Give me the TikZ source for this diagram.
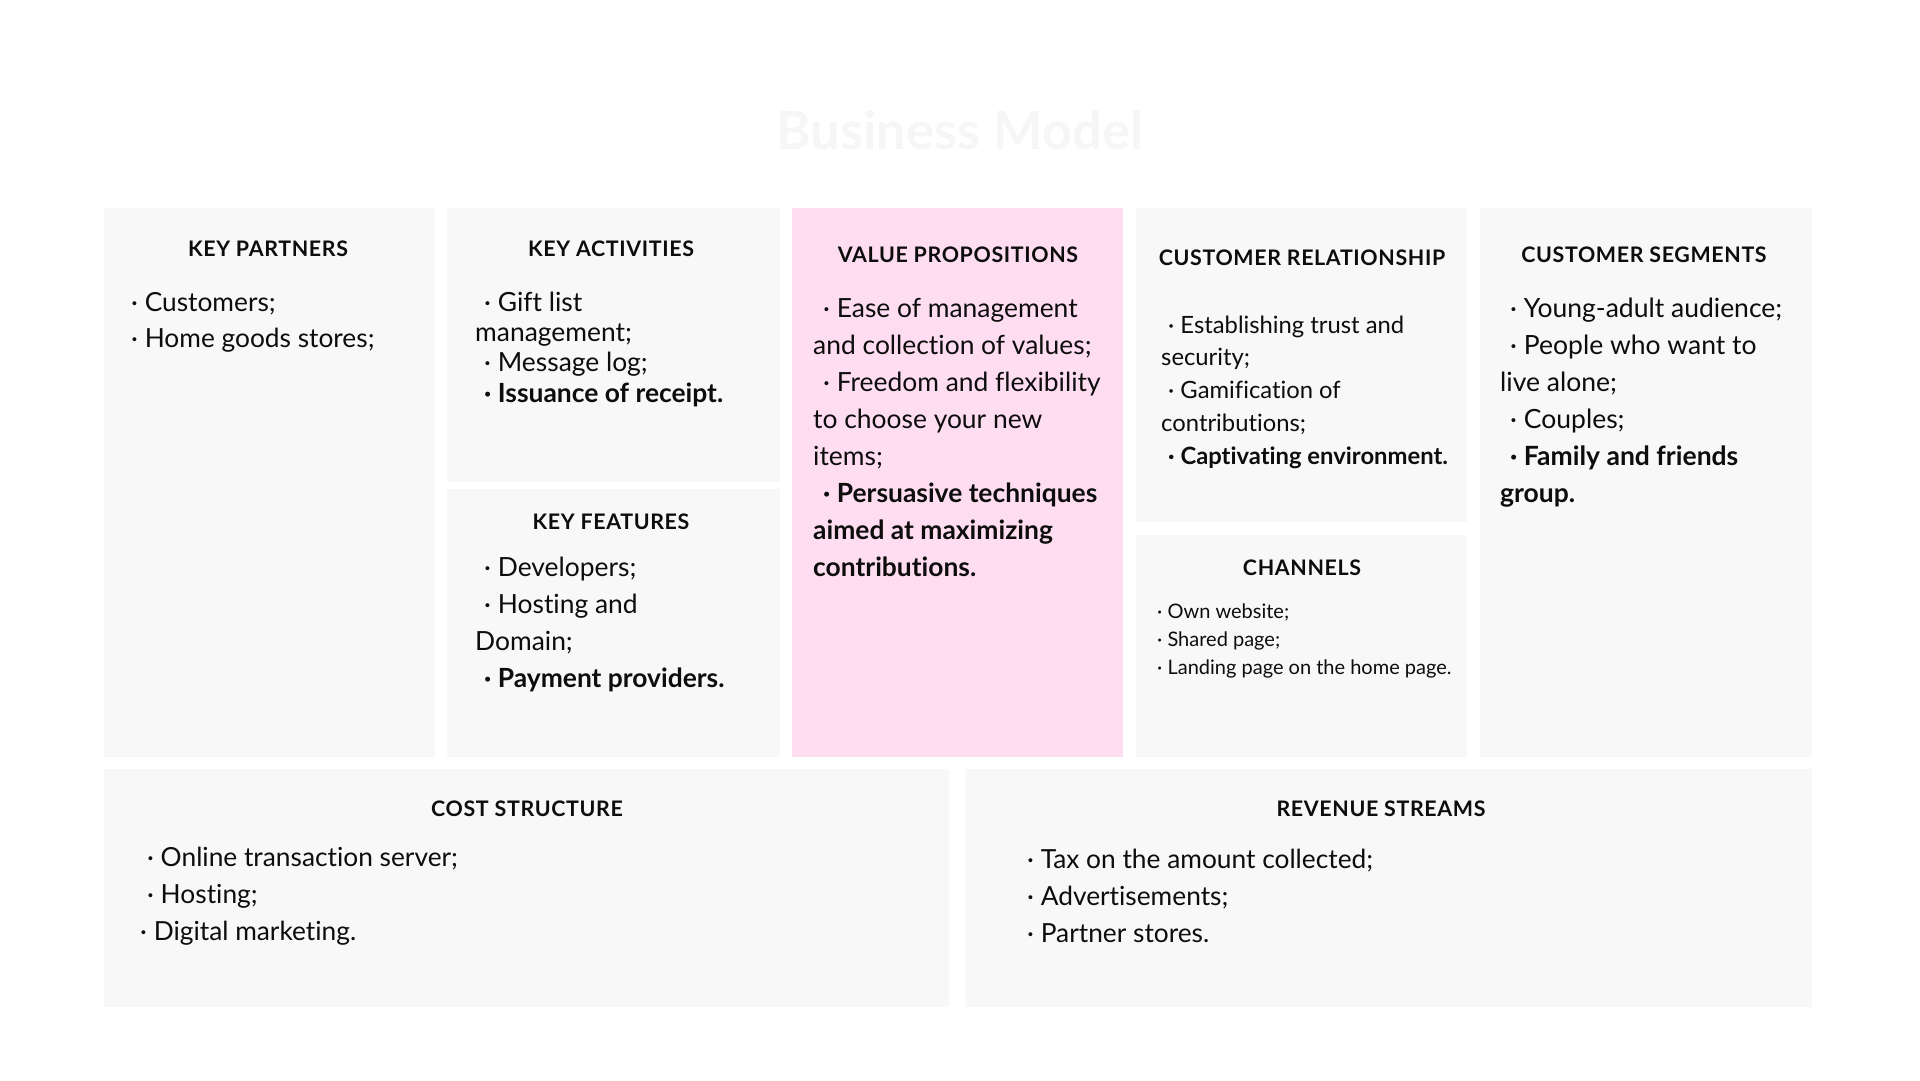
\documentclass[tikz,border=0pt]{standalone}
\usepackage{fontspec}
\setmainfont{Lato}[Ligatures=NoCommon]
\newfontfamily\headfont{Lato}[LetterSpace=3.0,Ligatures=NoCommon]
\definecolor{boxgray}{HTML}{F8F8F8}
\definecolor{boxpink}{HTML}{FFDDF0}
\definecolor{ink}{HTML}{0D0D0D}
\definecolor{titlegray}{HTML}{F6F6F6}
\newcommand{\ind}[1]{\hspace*{#1pt}}
\begin{document}
\begin{tikzpicture}[x=1pt,y=-1pt,
  panel/.style={fill=boxgray, draw=none},
  pinkpanel/.style={fill=boxpink, draw=none},
  head/.style={font=\headfont\bfseries\fontsize{21.4}{25}\selectfont, anchor=base, inner sep=0pt, text=ink},
  body/.style={anchor=north west, inner sep=0pt, align=left, text=ink},
]
\useasboundingbox[fill=white] (0,0) rectangle (1920,1080);

% title
\node[font=\bfseries\fontsize{52.5}{60}\selectfont, text=titlegray, anchor=base, inner sep=0pt] (title) at (960,149) {Business Model};

% panels
\path[panel] (104,208) rectangle (435,757);
\path[panel] (447,208) rectangle (780,482);
\path[panel] (447,489) rectangle (780,757);
\path[pinkpanel] (792,208) rectangle (1123,757);
\path[panel] (1136,208) rectangle (1467,522);
\path[panel] (1136,535) rectangle (1467,757);
\path[panel] (1480,208) rectangle (1812,757);
\path[panel] (104,769) rectangle (949,1007);
\path[panel] (965,769) rectangle (1812,1007);

% headings
\node[head] (hkp) at (268,256.5) {KEY PARTNERS};
\node[head] (hka) at (611,256.5) {KEY ACTIVITIES};
\node[head] (hkf) at (611,529.5) {KEY FEATURES};
\node[head] (hvp) at (958,262.5) {VALUE PROPOSITIONS};
\node[head] (hcr) at (1302,265.5) {CUSTOMER RELATIONSHIP};
\node[head] (hch) at (1302,575.5) {CHANNELS};
\node[head] (hcs) at (1644,262.5) {CUSTOMER SEGMENTS};
\node[head] (hcost) at (527,816.5) {COST STRUCTURE};
\node[head] (hrev) at (1381,816.5) {REVENUE STREAMS};

% bodies
\node[body, font=\fontsize{26.3}{36}\selectfont] (bkp) at (131,285.8)
  {\strut· Customers;\\· Home goods stores;};

\node[body, font=\fontsize{26.4}{30.4}\selectfont] (bka) at (475,289.7)
  {\strut\ind{9}· Gift list\\management;\\\ind{9}· Message log;\\\ind{9}\textbf{· Issuance of receipt.}};

\node[body, font=\fontsize{26.4}{37}\selectfont] (bkf) at (475,550.1)
  {\strut\ind{9}· Developers;\\\ind{9}· Hosting and\\Domain;\\\ind{9}\textbf{· Payment providers.}};

\node[body, font=\fontsize{26.4}{37}\selectfont] (bvp) at (813,291.1)
  {\strut\ind{10}· Ease of management\\and collection of values;\\\ind{10}· Freedom and flexibility\\to choose your new\\items;\\\ind{10}\textbf{· Persuasive techniques}\\\textbf{aimed at maximizing}\\\textbf{contributions.}};

\node[body, font=\fontsize{23.8}{32.8}\selectfont] (bcr) at (1161,310.0)
  {\strut\ind{7}· Establishing trust and\\security;\\\ind{7}· Gamification of\\contributions;\\\ind{7}\textbf{· Captivating environment.}};

\node[body, font=\fontsize{20}{28}\selectfont] (bch) at (1157,598.4)
  {\strut· Own website;\\· Shared page;\\· Landing page on the home page.};

\node[body, font=\fontsize{26.5}{37}\selectfont] (bcs) at (1500,291.1)
  {\strut\ind{10}· Young-adult audience;\\\ind{10}· People who want to\\live alone;\\\ind{10}· Couples;\\\ind{10}\textbf{· Family and friends}\\\textbf{group.}};

\node[body, font=\fontsize{26.3}{37.3}\selectfont] (bcost) at (140,839.9)
  {\strut\ind{7}· Online transaction server;\\\ind{7}· Hosting;\\· Digital marketing.};

\node[body, font=\fontsize{26.3}{37}\selectfont] (brev) at (1027,842.1)
  {\strut· Tax on the amount collected;\\· Advertisements;\\· Partner stores.};
\end{tikzpicture}
\end{document}
